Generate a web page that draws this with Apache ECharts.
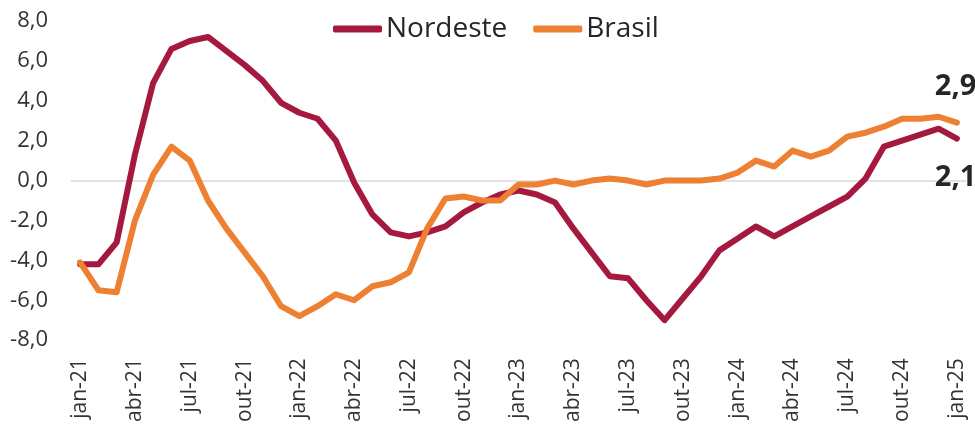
<!DOCTYPE html>
<html>
<head>
<meta charset="utf-8">
<script src="https://cdn.jsdelivr.net/npm/echarts@6/dist/echarts.min.js"></script>
<style>
  html, body { margin: 0; padding: 0; background: #ffffff; }
  #chart { width: 975px; height: 425px; }
</style>
</head>
<body>
<div id="chart"></div>
<script>
// Monthly categories, jan-21 to jan-25
const months = [
  'jan-21','fev-21','mar-21','abr-21','mai-21','jun-21','jul-21','ago-21','set-21','out-21','nov-21','dez-21',
  'jan-22','fev-22','mar-22','abr-22','mai-22','jun-22','jul-22','ago-22','set-22','out-22','nov-22','dez-22',
  'jan-23','fev-23','mar-23','abr-23','mai-23','jun-23','jul-23','ago-23','set-23','out-23','nov-23','dez-23',
  'jan-24','fev-24','mar-24','abr-24','mai-24','jun-24','jul-24','ago-24','set-24','out-24','nov-24','dez-24',
  'jan-25'
];

const nordeste = [
  -4.2, -4.2, -3.1, 1.3, 4.9, 6.6, 7.0, 7.2, 6.5, 5.8, 5.0, 3.9,
  3.4, 3.1, 2.0, -0.1, -1.7, -2.6, -2.8, -2.6, -2.3, -1.6, -1.1, -0.7,
  -0.5, -0.7, -1.1, -2.4, -3.6, -4.8, -4.9, -6.0, -7.0, -5.9, -4.8, -3.5,
  -2.9, -2.3, -2.8, -2.3, -1.8, -1.3, -0.8, 0.1, 1.7, 2.0, 2.3, 2.6,
  2.1
];

const brasil = [
  -4.1, -5.5, -5.6, -2.0, 0.3, 1.7, 1.0, -1.0, -2.4, -3.6, -4.8, -6.3,
  -6.8, -6.3, -5.7, -6.0, -5.3, -5.1, -4.6, -2.4, -0.9, -0.8, -1.0, -1.0,
  -0.2, -0.2, 0.0, -0.2, 0.0, 0.1, 0.0, -0.2, 0.0, 0.0, 0.0, 0.1,
  0.4, 1.0, 0.7, 1.5, 1.2, 1.5, 2.2, 2.4, 2.7, 3.1, 3.1, 3.2,
  2.9
];

const yTicks = [-8, -6, -4, -2, 0, 2, 4, 6, 8];

const FONT = '"Open Sans", "Noto Sans", sans-serif';
const TEXT = '#333333';
const RED = '#A5193F';
const ORANGE = '#EE8033';

const fmt = v => Number(v).toFixed(1).replace('.', ',');

const chart = echarts.init(document.getElementById('chart'), null, { renderer: 'canvas' });

chart.setOption({
  animation: false,
  backgroundColor: '#ffffff',
  textStyle: { fontFamily: FONT },
  legend: {
    top: 10,
    left: 328,
    itemWidth: 49,
    itemHeight: 7,
    itemGap: 26,
    icon: 'roundRect',
    textStyle: { fontFamily: FONT, fontSize: 28, color: '#262626', padding: [0, 0, 0, -1] },
    data: ['Nordeste', 'Brasil']
  },
  grid: { left: 71, right: 9, top: 21, bottom: 84, containLabel: false },
  xAxis: {
    type: 'category',
    data: months,
    boundaryGap: true,
    axisLine: { show: false },
    axisTick: { show: false },
    axisLabel: {
      interval: 2,
      rotate: 90,
      margin: 18,
      fontFamily: FONT,
      fontSize: 21,
      color: TEXT
    },
    splitLine: { show: false }
  },
  yAxis: {
    type: 'value',
    min: yTicks[0],
    max: yTicks[yTicks.length - 1],
    interval: 2,
    axisLine: { show: false },
    axisTick: { show: false },
    axisLabel: {
      margin: 23,
      fontFamily: FONT,
      fontSize: 22,
      color: TEXT,
      formatter: v => fmt(v)
    },
    splitLine: {
      show: true,
      // only the zero line is drawn
      lineStyle: {
        color: yTicks.map(t => t === 0 ? '#d9d9d9' : 'rgba(0,0,0,0)'),
        width: 1.5
      }
    }
  },
  series: [
    {
      name: 'Nordeste',
      type: 'line',
      data: nordeste,
      symbol: 'none',
      showSymbol: false,
      color: RED,
      lineStyle: { color: RED, width: 6, cap: 'round', join: 'round' },
      endLabel: {
        show: true,
        formatter: p => fmt(p.value),
        offset: [-30, 39],
        fontFamily: FONT,
        fontSize: 29,
        fontWeight: 'bold',
        color: '#262626'
      }
    },
    {
      name: 'Brasil',
      type: 'line',
      data: brasil,
      symbol: 'none',
      showSymbol: false,
      color: ORANGE,
      lineStyle: { color: ORANGE, width: 6, cap: 'round', join: 'round' },
      endLabel: {
        show: true,
        formatter: p => fmt(p.value),
        offset: [-30, -36],
        fontFamily: FONT,
        fontSize: 29,
        fontWeight: 'bold',
        color: '#262626'
      }
    }
  ]
});
</script>
</body>
</html>
